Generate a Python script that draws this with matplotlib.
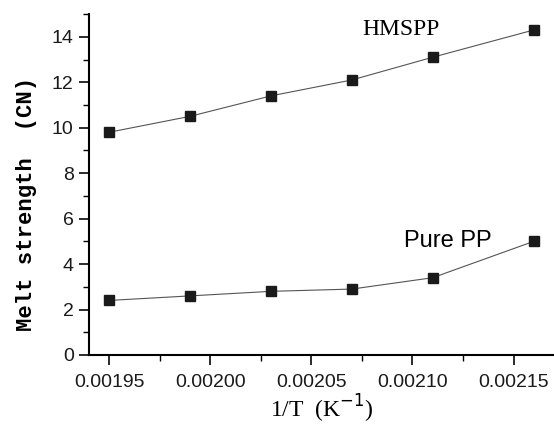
import matplotlib
matplotlib.use("Agg")
import matplotlib.pyplot as plt
from matplotlib.ticker import MultipleLocator

# data
inv_T = [0.00195, 0.00199, 0.00203, 0.00207, 0.00211, 0.00216]
hmspp = [9.8, 10.5, 11.4, 12.1, 13.1, 14.3]
pure_pp = [2.4, 2.6, 2.8, 2.9, 3.4, 5.0]

plt.rcParams["font.family"] = "Liberation Sans"
fig = plt.figure(figsize=(5.54, 4.26), dpi=100)
ax = fig.add_axes([0.1606, 0.1667, 0.8394, 0.8003])

ax.plot(inv_T, hmspp, "-", color="#555555", lw=0.8, marker="s", ms=7,
        mfc="#1a1a1a", mec="#1a1a1a")
ax.plot(inv_T, pure_pp, "-", color="#555555", lw=0.8, marker="s", ms=7,
        mfc="#1a1a1a", mec="#1a1a1a")

ax.set_xlim(0.00194, 0.00217)
ax.set_ylim(0, 15)
ax.xaxis.set_minor_locator(MultipleLocator(0.000025))
ax.yaxis.set_minor_locator(MultipleLocator(1))
ax.set_xticks([0.00195, 0.00200, 0.00205, 0.00210, 0.00215])
ax.set_xticklabels(["0.00195", "0.00200", "0.00205", "0.00210", "0.00215"])
ax.set_yticks(range(0, 15, 2))

for s in ["top", "right"]:
    ax.spines[s].set_visible(False)
ax.spines["left"].set_linewidth(1.5)
ax.spines["bottom"].set_linewidth(1.5)
ax.tick_params(which="major", direction="out", length=7, width=1.3,
               labelsize=14, pad=4, colors="#1a1a1a")
ax.tick_params(axis="x", which="major", pad=7)
ax.tick_params(which="minor", direction="out", length=4.5, width=1.0)

ax.set_ylabel("Melt strength  (CN)", family="Liberation Mono", fontweight="bold",
              fontsize=16)
ax.yaxis.set_label_coords(-0.112, 0.443)
ax.set_xlabel(r"1/T  (K$^{-1}$)", family="Liberation Serif", fontsize=17, labelpad=1)

ax.text(0.002075, 14.3, "HMSPP", family="Liberation Serif", fontsize=17,
        ha="left", va="center")
ax.text(0.002096, 5.0, "Pure PP", fontsize=17, ha="left", va="center")

fig.savefig("out.png", dpi=100)
